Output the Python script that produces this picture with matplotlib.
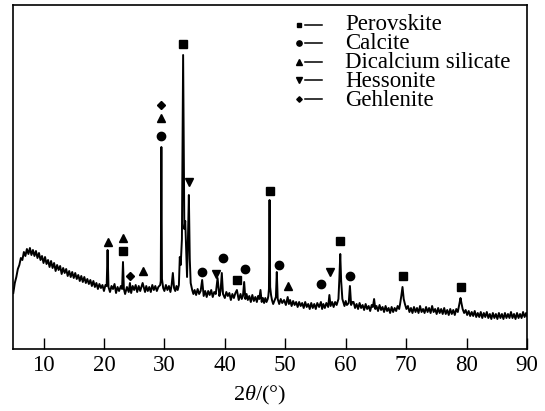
import matplotlib
matplotlib.use('Agg')
import matplotlib.pyplot as plt

plt.rcParams['font.family'] = ['Liberation Serif', 'DejaVu Serif']
plt.rcParams['mathtext.fontset'] = 'custom'
plt.rcParams['mathtext.rm'] = 'Liberation Serif'
plt.rcParams['mathtext.it'] = 'Liberation Serif:italic'

# XRD pattern (2theta in degrees, intensity in arbitrary units)
# low angle part: amorphous hump
low_theta = [
    5.0, 5.25, 5.5, 5.75, 6.0, 6.25, 6.5, 6.75, 7.0, 7.25, 7.5, 7.75, 8.0, 8.25,
    8.5, 8.75, 9.0, 9.25, 9.5, 9.75, 10.0, 10.25, 10.5, 10.75, 11.0, 11.25, 11.5,
    11.75, 12.0, 12.25, 12.5, 12.75, 13.0, 13.25, 13.5, 13.75, 14.0, 14.25, 14.5,
    14.75, 15.0, 15.25, 15.5, 15.75, 16.0, 16.25, 16.5, 16.75, 17.0, 17.25, 17.5,
    17.75, 18.0, 18.25, 18.5, 18.75, 19.0, 19.25, 19.5, 19.75, 20.0, 20.25,
]
low_counts = [
    56, 66, 72, 80, 84, 91, 89, 97, 93, 100, 95, 101, 94, 99,
    93, 98, 91, 96, 89, 93, 86, 92, 85, 89, 82, 88, 81,
    86, 78, 84, 79, 83, 75, 81, 76, 80, 73, 78, 72,
    77, 71, 76, 70, 74, 68, 73, 67, 72, 66, 70, 65,
    69, 63, 68, 62, 66, 60, 65, 61, 64, 58, 64,
]
# middle part: most of the crystalline peaks
mid_theta = [
    20.45, 20.6, 20.75, 21.0, 21.25, 21.5, 21.75, 22.0, 22.25, 22.5, 22.8,
    23.0, 23.15, 23.3, 23.5, 23.8, 24.1, 24.3, 24.5, 24.75, 25.0, 25.25, 25.5,
    25.75, 26.0, 26.4, 26.8, 27.0, 27.25, 27.5, 27.75, 28.0, 28.25, 28.5, 28.75,
    29.0, 29.3, 29.4, 29.5, 29.6, 29.8, 30.0, 30.25, 30.5, 30.75, 31.0, 31.2,
    31.4, 31.6, 31.8, 32.0, 32.2, 32.4, 32.55, 32.7, 32.9, 33.1, 33.3, 33.45,
    33.6, 33.75, 33.9, 34.05, 34.2, 34.35, 34.6, 34.8, 35.0, 35.25, 35.5, 35.75,
    36.0, 36.25, 36.5, 36.75, 37.0, 37.25, 37.5, 37.75, 38.0, 38.25, 38.5, 38.8,
    39.1, 39.3, 39.5, 39.7, 40.0, 40.25, 40.5, 40.75, 41.0, 41.25, 41.5, 41.75,
    42.0, 42.3, 42.6, 42.8, 43.0, 43.2, 43.4, 43.6, 43.8, 44.05, 44.3, 44.55,
    44.8, 45.05, 45.3, 45.5, 45.7, 45.9, 46.1, 46.3, 46.5, 46.7, 46.9, 47.1,
    47.2, 47.3, 47.4, 47.5, 47.65, 47.8, 48.0, 48.2, 48.45, 48.6, 48.75, 49.0,
    49.25, 49.5, 49.8, 50.1, 50.4, 50.6, 50.8, 51.05, 51.3, 51.55, 51.8, 52.05,
    52.3, 52.55, 52.8, 53.05, 53.3, 53.55, 53.8, 54.05, 54.3, 54.55, 54.8,
    55.05, 55.3, 55.6, 55.9, 56.1, 56.3, 56.55, 56.8, 57.1, 57.3, 57.5, 57.75,
    58.0, 58.25, 58.5, 58.8, 58.95, 59.1, 59.25, 59.45, 59.65, 59.8, 60.0,
    60.2, 60.5, 60.7, 60.9, 61.1,
]
mid_counts = [
    63, 99, 62, 57, 63, 60, 65, 56, 62, 58, 63,
    60, 87, 60, 55, 62, 57, 66, 56, 63, 59, 64, 57,
    63, 58, 66, 57, 63, 58, 62, 57, 64, 59, 63, 58,
    62, 64, 68, 202, 70, 61, 58, 64, 59, 63, 57, 64,
    76, 61, 58, 63, 59, 64, 92, 84, 110, 294, 120, 128,
    100, 72, 110, 154, 90, 66, 59, 55, 59, 54, 60, 55,
    58, 69, 53, 58, 52, 58, 54, 59, 52, 57, 55, 71,
    53, 58, 76, 55, 51, 57, 53, 56, 49, 55, 51, 56,
    59, 49, 55, 50, 53, 67, 50, 55, 49, 53, 47, 54,
    48, 52, 47, 53, 50, 59, 47, 51, 46, 51, 47, 50,
    53, 60, 149, 62, 54, 49, 45, 48, 52, 77, 50, 45,
    50, 46, 49, 44, 52, 45, 49, 43, 48, 44, 47, 42,
    47, 43, 46, 41, 47, 42, 45, 40, 46, 41, 45,
    40, 46, 42, 47, 40, 45, 41, 46, 42, 54, 43, 47,
    42, 47, 44, 50, 70, 95, 68, 50, 46, 43, 48,
    44, 46, 63, 44, 47,
]
# high angle part
high_theta = [
    61.3, 61.55, 61.8, 62.05, 62.3, 62.55, 62.8, 63.05, 63.3, 63.55, 63.8, 64.05,
    64.3, 64.5, 64.7, 64.9, 65.1, 65.35, 65.6, 65.85, 66.1, 66.35, 66.6, 66.85,
    67.1, 67.35, 67.6, 67.85, 68.1, 68.35, 68.6, 68.85, 69.0, 69.2, 69.4, 69.6,
    69.8, 70.05, 70.3, 70.55, 70.8, 71.05, 71.3, 71.55, 71.8, 72.05, 72.3, 72.55,
    72.8, 73.05, 73.3, 73.55, 73.8, 74.05, 74.3, 74.55, 74.8, 75.05, 75.3, 75.55,
    75.8, 76.05, 76.3, 76.55, 76.8, 77.05, 77.3, 77.55, 77.8, 78.05, 78.3, 78.55,
    78.75, 78.9, 79.0, 79.15, 79.35, 79.6, 79.85, 80.1, 80.35, 80.6, 80.85, 81.1,
    81.35, 81.6, 81.85, 82.1, 82.35, 82.6, 82.85, 83.1, 83.35, 83.6, 83.85, 84.1,
    84.35, 84.6, 84.85, 85.1, 85.35, 85.6, 85.85, 86.1, 86.35, 86.6, 86.85, 87.1,
    87.35, 87.6, 87.85, 88.1, 88.35, 88.6, 88.85, 89.1, 89.35, 89.6, 89.85, 90.0,
]
high_counts = [
    47, 41, 45, 40, 46, 41, 44, 39, 45, 40, 43, 38,
    44, 42, 50, 40, 43, 38, 44, 39, 42, 37, 43, 38,
    41, 36, 42, 37, 41, 38, 43, 40, 45, 53, 62, 50,
    45, 40, 43, 37, 41, 36, 42, 37, 41, 36, 43, 37,
    40, 36, 42, 37, 41, 36, 43, 37, 40, 35, 41, 36,
    40, 35, 41, 35, 39, 34, 40, 35, 39, 34, 40, 37,
    43, 48, 51, 46, 40, 36, 39, 34, 38, 33, 37, 33,
    38, 32, 36, 32, 37, 31, 36, 32, 37, 31, 35, 30,
    36, 31, 35, 30, 36, 31, 35, 30, 36, 31, 35, 31,
    37, 31, 35, 30, 36, 31, 35, 31, 37, 32, 36, 33,
]

# phase markers above the peaks
phases = ['Perovskite', 'Calcite', 'Dicalcium silicate', 'Hessonite', 'Gehlenite']
perovskite_x = [23.15, 33.1, 42.05, 47.4, 59.1, 69.4, 79.1]
perovskite_y = [98, 305, 69, 158, 108, 73, 62]
calcite_x = [29.5, 36.25, 39.7, 43.3, 48.9, 55.9, 60.75]
calcite_y = [213, 77, 91, 80, 84, 65, 73]
dicalcium_x = [20.6, 23.15, 26.4, 29.5, 50.4]
dicalcium_y = [107, 111, 78, 231, 63]
hessonite_x = [34.0, 38.6, 57.4]
hessonite_y = [167, 75, 77]
gehlenite_x = [24.3, 29.5]
gehlenite_y = [73, 244]

two_theta = low_theta + mid_theta + high_theta
intensity = low_counts + mid_counts + high_counts

W, H = 545, 411
fig = plt.figure(figsize=(W / 100, H / 100), dpi=100)
ax = fig.add_axes([13.3 / W, 1 - 349 / H, (527 - 13.3) / W, (349 - 5.3) / H])

ax.plot(two_theta, intensity, color='k', lw=1.4)

ax.plot(perovskite_x, perovskite_y, 's', color='k', ms=5.3, ls='none')
ax.plot(calcite_x, calcite_y, 'o', color='k', ms=6, ls='none')
ax.plot(dicalcium_x, dicalcium_y, '^', color='k', ms=5.8, ls='none')
ax.plot(hessonite_x, hessonite_y, 'v', color='k', ms=5.8, ls='none')
ax.plot(gehlenite_x, gehlenite_y, 'D', color='k', ms=3.8, ls='none')

ax.set_xlim(5, 90)
ax.set_ylim(0, 343.7)
ax.set_xticks([10, 20, 30, 40, 50, 60, 70, 80, 90])
ax.set_yticks([])
ax.tick_params(axis='x', direction='in', length=8, width=1, labelsize=16.5, pad=4)
for sp in ax.spines.values():
    sp.set_linewidth(1.2)

fig.text(259.5 / W, 1 - 395 / H, r'2$\mathit{\theta}$/(°)', fontsize=16,
         ha='center', va='center')

# hand-made legend: marker, dash, then all names in one text block
legend_markers = [('s', 3.2), ('o', 3.8), ('^', 4.0), ('v', 4.0), ('D', 2.8)]
row_px = [25, 43.5, 62, 80.5, 99]
for (m, ms), ypx in zip(legend_markers, row_px):
    yf = 1 - ypx / H
    ax.plot([299.3 / W], [yf], m, color='k', ms=ms, transform=fig.transFigure, clip_on=False)
    ax.plot([305 / W, 322 / W], [yf, yf], color='k', lw=1.1, transform=fig.transFigure, clip_on=False)
# va='baseline' on a multi-line text pins the last line
fig.text(345 / W, 1 - (row_px[-1] + 7.5) / H, '\n'.join(phases), fontsize=16.5,
         ha='left', va='baseline', linespacing=0.88)

fig.savefig('out.png', dpi=100)
